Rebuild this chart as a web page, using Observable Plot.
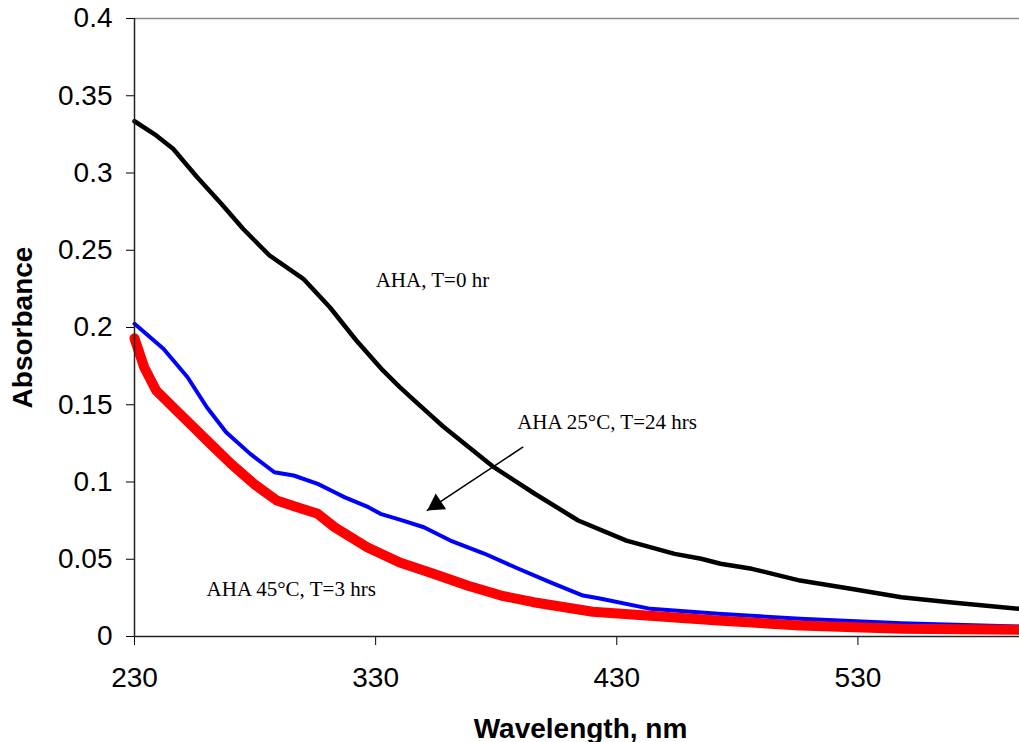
<!DOCTYPE html>
<html>
<head>
<meta charset="utf-8">
<script src="https://cdn.jsdelivr.net/npm/d3@7"></script>
<script src="https://cdn.jsdelivr.net/npm/@observablehq/plot@0.6"></script>
<style>
  html, body { margin: 0; padding: 0; background: #fff; }
</style>
</head>
<body>
<div id="chart"></div>
<script>
// ---- Data ----
const xTicks = [230, 330, 430, 530];
const yTicks = [0, 0.05, 0.1, 0.15, 0.2, 0.25, 0.3, 0.35, 0.4];

// AHA, T=0 hr (black)
const t0Wl  = [230, 239, 246, 256, 266, 275, 286, 300, 311, 322, 333, 340, 346, 353, 358, 379, 396, 414, 434, 454, 465, 473, 486, 506, 527, 548, 568, 597];
const t0Abs = [0.3335, 0.3243, 0.3157, 0.2973, 0.2801, 0.2639, 0.2466, 0.2315, 0.2131, 0.1916, 0.1722, 0.1614, 0.1528, 0.143, 0.1359, 0.1096, 0.0924, 0.0751, 0.0621, 0.0535, 0.0503, 0.0471, 0.0438, 0.0362, 0.0309, 0.0254, 0.0222, 0.0179];

// AHA 25°C, T=24 hrs (blue)
const t24Wl  = [230, 242, 252, 260, 268, 278, 288, 296, 306, 313, 317, 327, 332, 340, 350, 361, 375, 389, 402.5, 416, 423, 444, 472, 506, 548, 597];
const t24Abs = [0.2024, 0.1862, 0.1678, 0.1484, 0.1322, 0.1182, 0.1063, 0.1042, 0.0988, 0.0934, 0.0902, 0.0837, 0.0794, 0.0757, 0.0707, 0.0621, 0.0537, 0.044, 0.035, 0.0265, 0.0246, 0.0179, 0.0147, 0.0115, 0.0086, 0.0065];

// AHA 45°C, T=3 hrs (red)
const t3Wl  = [230, 234, 239, 246, 253, 261.5, 270, 279.5, 289, 297.5, 306, 313, 326.5, 340, 354, 368, 382, 395.5, 420, 472, 506, 548, 597];
const t3Abs = [0.193, 0.1743, 0.1592, 0.1484, 0.1377, 0.1247, 0.1118, 0.0988, 0.088, 0.0837, 0.0794, 0.0707, 0.0578, 0.0479, 0.0406, 0.033, 0.0265, 0.0222, 0.016, 0.0104, 0.0071, 0.005, 0.0043];

// Annotations (data coordinates of the text start / baseline)
const noteLabels = ["AHA, T=0 hr", "AHA 25°C, T=24 hrs", "AHA 45°C, T=3 hrs"];
const noteWl     = [330, 388.7, 259.9];
const noteAbs    = [0.2261, 0.1344, 0.0261];

// Arrow pointing at the blue curve
const arrowFrom = [391, 0.1225];
const arrowTo   = [351.4, 0.0816];

// ---- Build tables ----
const series = (wl, ab) => wl.map((w, i) => ({wl: w, abs: ab[i]}));
const t0  = series(t0Wl, t0Abs);
const t24 = series(t24Wl, t24Abs);
const t3  = series(t3Wl, t3Abs);
const notes = noteLabels.map((t, i) => ({label: t, wl: noteWl[i], abs: noteAbs[i]}));
const arrow = [{x1: arrowFrom[0], y1: arrowFrom[1], x2: arrowTo[0], y2: arrowTo[1]}];

const chart = Plot.plot({
  width: 1019,
  height: 742,
  marginLeft: 134,
  marginRight: 0,
  marginTop: 18,
  marginBottom: 106,
  style: {fontFamily: "'Liberation Sans', Arial, sans-serif", background: "#fff", color: "#000", overflow: "visible"},
  x: {domain: [230, 597]},
  y: {domain: [0, 0.4]},
  marks: [
    Plot.ruleY([0.4], {stroke: "#8a8a8a", strokeWidth: 1.5}),
    Plot.axisX({ticks: xTicks, tickSize: 9, tickPadding: 22, fontSize: 28, label: null, stroke: "#000", strokeOpacity: 1, tickFormat: d => String(d)}),
    Plot.axisY({ticks: yTicks, tickSize: 8, tickPadding: 14, fontSize: 28, label: null, stroke: "#000", strokeOpacity: 1, tickFormat: d => String(+d.toFixed(2))}),
    Plot.line(t24, {x: "wl", y: "abs", stroke: "#0000ff", strokeWidth: 4}),
    Plot.line(t3, {x: "wl", y: "abs", stroke: "#ff0000", strokeWidth: 10}),
    Plot.line(t0, {x: "wl", y: "abs", stroke: "#000", strokeWidth: 4.5}),
    Plot.ruleX([230], {stroke: "#222", strokeWidth: 1.5}),
    Plot.ruleY([0], {stroke: "#222", strokeWidth: 1.5}),
    Plot.text(notes, {x: "wl", y: "abs", text: "label", textAnchor: "start", lineAnchor: "bottom",
      fontFamily: "'Liberation Serif', 'Times New Roman', serif", fontSize: 21, fill: "#000"}),
    Plot.arrow(arrow, {x1: "x1", y1: "y1", x2: "x2", y2: "y2", headLength: 0, stroke: "#000", strokeWidth: 1.5}),
    Plot.dot(arrow, {x: "x2", y: "y2", symbol: "triangle", r: 7, fill: "#000", stroke: "none", rotate: 236.5, dx: 9.1, dy: -6.0}),
    Plot.text(["Absorbance"], {frameAnchor: "left", dx: -111, rotate: -90, fontWeight: "bold", fontSize: 28, fill: "#000", textAnchor: "middle", lineAnchor: "middle"}),
    Plot.text(["Wavelength, nm"], {frameAnchor: "bottom", dx: 3.5, dy: 101, fontWeight: "bold", fontSize: 28, fill: "#000", textAnchor: "middle", lineAnchor: "bottom"})
  ]
});
document.getElementById("chart").appendChild(chart);
</script>
</body>
</html>
